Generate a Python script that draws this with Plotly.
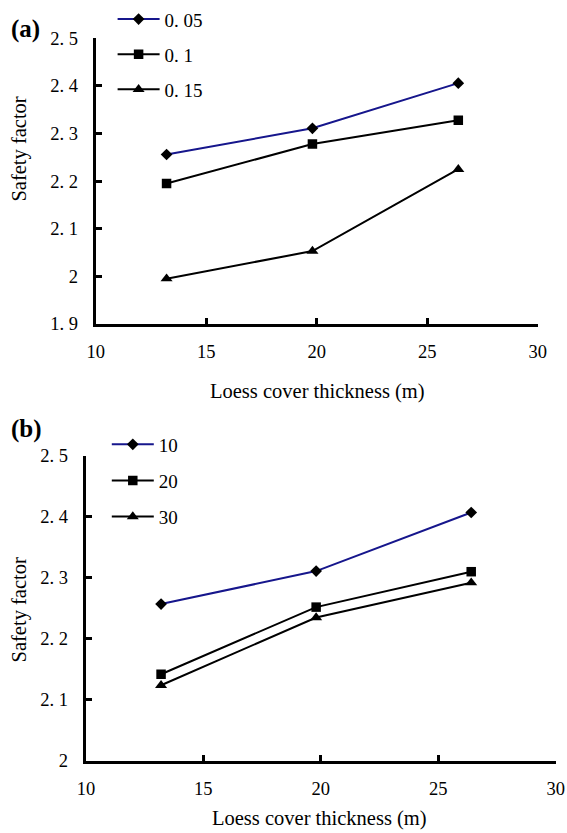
import plotly.graph_objects as go

# ---- data ----
thickness = [13.2, 19.8, 26.4]

a_names = ["0. 05", "0. 1", "0. 15"]
a_values = [
    [2.256, 2.311, 2.406],
    [2.195, 2.278, 2.328],
    [1.995, 2.053, 2.225],
]

b_names = ["10", "20", "30"]
b_values = [
    [2.257, 2.311, 2.407],
    [2.142, 2.252, 2.310],
    [2.124, 2.235, 2.292],
]

x_ticks = [10, 15, 20, 25, 30]
a_yticks = [1.9, 2.0, 2.1, 2.2, 2.3, 2.4, 2.5]
a_yticktext = ["1. 9", "2", "2. 1", "2. 2", "2. 3", "2. 4", "2. 5"]
b_yticks = [2.0, 2.1, 2.2, 2.3, 2.4, 2.5]
b_yticktext = ["2", "2. 1", "2. 2", "2. 3", "2. 4", "2. 5"]

symbols = ["diamond", "square", "triangle-up"]
sizes = [9, 9.5, 10.5]
colors = ["#16168c", "black", "black"]

W, H = 567, 833
# the photographed page carries an 8px body margin and is fitted (uniformly)
# into 567x833, centred vertically
BODY = 8
S = W / (W + 2 * BODY)
OY = (H - (H + 2 * BODY) * S) / 2 + BODY * S
SERIF = "Liberation Serif"


def px(X):
    """target picture x (px) -> paper fraction"""
    return (X / S - BODY) / W


def py(Y, cap=None):
    """target picture y (px, from top) -> paper fraction"""
    y = (Y - OY) / S
    if cap is not None:
        y = min(y, cap)
    return 1 - y / H


fig = go.Figure()

for i in range(3):
    fig.add_trace(go.Scatter(
        x=thickness, y=a_values[i], name=a_names[i], mode="lines+markers",
        line=dict(color=colors[i], width=2),
        marker=dict(symbol=symbols[i], size=sizes[i], color="black"),
        xaxis="x", yaxis="y", legend="legend", legendgroup="a%d" % i,
    ))
for i in range(3):
    fig.add_trace(go.Scatter(
        x=thickness, y=b_values[i], name=b_names[i], mode="lines+markers",
        line=dict(color=colors[i], width=2),
        marker=dict(symbol=symbols[i], size=sizes[i], color="black"),
        xaxis="x2", yaxis="y2", legend="legend2", legendgroup="b%d" % i,
    ))

axis_common = dict(
    showline=True, linecolor="black", linewidth=3.4, mirror=False,
    ticks="inside", ticklen=6, tickwidth=3, tickcolor="black",
    showgrid=False, zeroline=False,
    tickfont=dict(family=SERIF, size=18.5, color="black"),
)

fig.update_layout(
    width=W, height=H, margin=dict(l=0, r=0, t=0, b=0),
    paper_bgcolor="white", plot_bgcolor="white",
    showlegend=True,
    xaxis=dict(domain=[px(95), px(539)], range=[10, 30], tickvals=x_ticks,
               anchor="y", ticklabelstandoff=9, **axis_common),
    yaxis=dict(domain=[py(318), py(30)], range=[1.9, 2.5], tickvals=a_yticks,
               ticktext=a_yticktext, anchor="x", ticklabelstandoff=11,
               **axis_common),
    xaxis2=dict(domain=[px(85), px(557)], range=[10, 30], tickvals=x_ticks,
                anchor="y2", ticklabelstandoff=9, **axis_common),
    yaxis2=dict(domain=[py(759), py(451)], range=[2.0, 2.5], tickvals=b_yticks,
                ticktext=b_yticktext, anchor="x2", ticklabelstandoff=11,
                **axis_common),
    legend=dict(x=107 / W, y=1 + 20.5 / H, xanchor="left", yanchor="top",
                bgcolor="rgba(0,0,0,0)", tracegroupgap=7.4, itemwidth=42,
                font=dict(family=SERIF, size=19, color="black")),
    legend2=dict(x=101 / W, y=1 - 420.6 / H, xanchor="left", yanchor="top",
                 bgcolor="rgba(0,0,0,0)", tracegroupgap=8.4, itemwidth=42,
                 font=dict(family=SERIF, size=19, color="black")),
)

annotations = [
    dict(text="<b>(a)</b>", x=px(8), y=py(21), xanchor="left", yanchor="middle",
         font=dict(family=SERIF, size=25, color="black")),
    dict(text="<b>(b)</b>", x=px(8), y=py(424), xanchor="left", yanchor="middle",
         font=dict(family=SERIF, size=25, color="black")),
    dict(text="Loess cover thickness (m)", x=px(318), y=py(386),
         xanchor="center", yanchor="middle",
         font=dict(family=SERIF, size=20.5, color="black")),
    dict(text="Loess cover thickness (m)", x=px(320), y=py(823, cap=828),
         xanchor="center", yanchor="middle",
         font=dict(family=SERIF, size=20.5, color="black")),
    dict(text="Safety factor", x=px(18), y=py(142), textangle=-90,
         xanchor="center", yanchor="middle",
         font=dict(family=SERIF, size=20.5, color="black")),
    dict(text="Safety factor", x=px(18), y=py(607), textangle=-90,
         xanchor="center", yanchor="middle",
         font=dict(family=SERIF, size=20.5, color="black")),
]
for a in annotations:
    a.update(xref="paper", yref="paper", showarrow=False)
fig.update_layout(annotations=annotations)

fig.write_html("out.html")
